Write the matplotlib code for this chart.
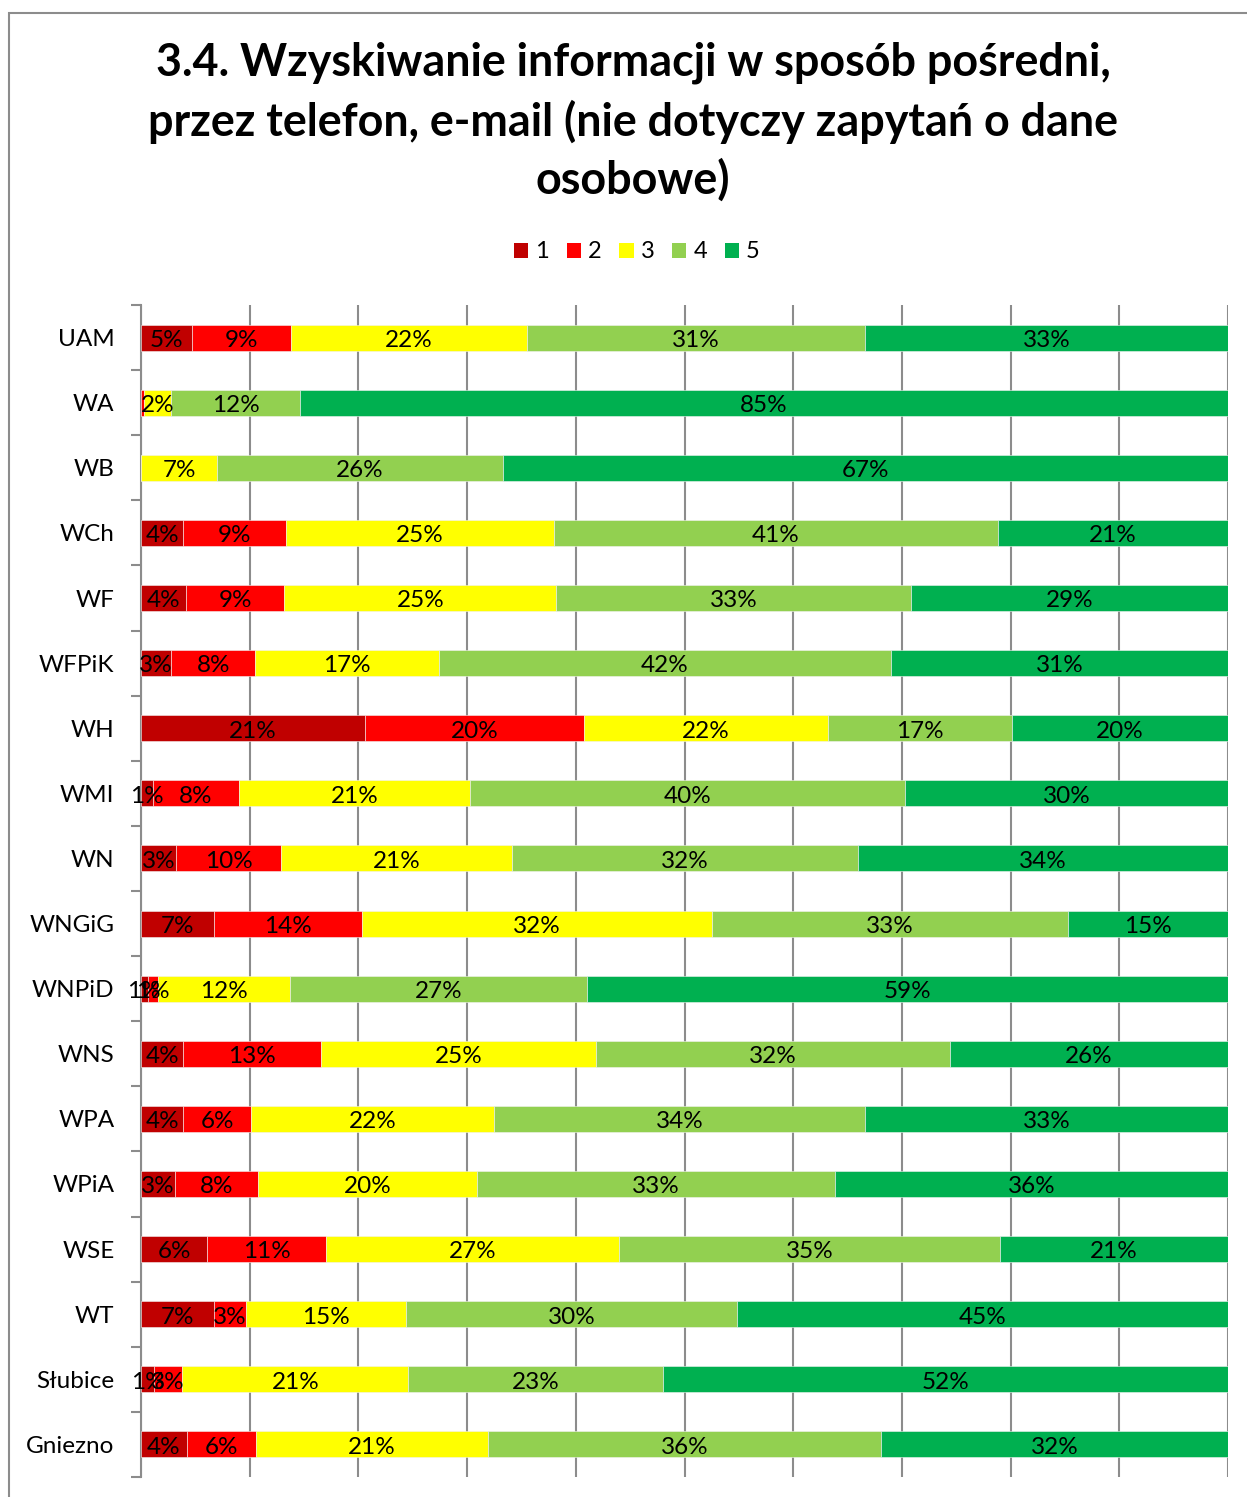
import matplotlib.pyplot as plt
from matplotlib.patches import Rectangle, Patch

plt.rcParams['font.family'] = ['Lato', 'DejaVu Sans']

# data (percent of answers, rows top to bottom)
categories = ['UAM', 'WA', 'WB', 'WCh', 'WF', 'WFPiK', 'WH', 'WMI', 'WN', 'WNGiG',
              'WNPiD', 'WNS', 'WPA', 'WPiA', 'WSE', 'WT', 'Słubice', 'Gniezno']
s1 = [4.7, 0.0, 0.0, 3.9, 4.1, 2.8, 20.6, 1.1, 3.2, 6.7, 0.6, 3.9, 3.9, 3.1, 6.1, 6.7, 1.2, 4.2]
s2 = [9.1, 0.3, 0.0, 9.4, 9.1, 7.7, 20.2, 7.9, 9.7, 13.6, 1.0, 12.7, 6.2, 7.7, 10.9, 3.0, 2.6, 6.4]
s3 = [21.7, 2.5, 7.0, 24.7, 25.0, 16.9, 22.4, 21.3, 21.2, 32.2, 12.1, 25.3, 22.4, 20.1, 27.0, 14.7, 20.8, 21.3]
s4 = [31.1, 11.8, 26.3, 40.8, 32.6, 41.6, 16.9, 40.0, 31.9, 32.8, 27.3, 32.5, 34.1, 32.9, 35.0, 30.4, 23.4, 36.2]
s5 = [33.4, 85.4, 66.7, 21.2, 29.2, 31.0, 19.9, 29.7, 34.0, 14.7, 59.0, 25.6, 33.4, 36.2, 21.0, 45.2, 52.0, 31.9]
series = [s1, s2, s3, s4, s5]
series_names = ['1', '2', '3', '4', '5']
colors = ['#C00000', '#FF0000', '#FFFF00', '#92D050', '#00B050']

fig = plt.figure(figsize=(12.47, 14.97), dpi=100)
ax = fig.add_axes([141 / 1247, 20 / 1497, 1087 / 1247, 1172 / 1497])

n = len(categories)
ypos = list(range(n))
totals = [sum(s[i] for s in series) for i in range(n)]
left = [0.0] * n
for vals, col in zip(series, colors):
    widths = [vals[i] / totals[i] * 100 for i in range(n)]
    ax.barh(ypos, widths, left=left, height=0.4, color=col,
            edgecolor='#F2F2F2', linewidth=0.4, zorder=3)
    for i in range(n):
        if round(widths[i]) >= 1:
            ax.annotate(f'{round(widths[i])}%', (left[i] + widths[i] / 2, ypos[i]),
                        xytext=(0, -2), textcoords='offset points',
                        ha='center', va='center', fontsize=17.5, color='black', zorder=4)
    left = [left[i] + widths[i] for i in range(n)]

ax.set_xlim(0, 100)
ax.set_ylim(n - 0.5, -0.5)
ax.set_xticks(range(0, 101, 10))
ax.tick_params(axis='x', length=0, labelbottom=False)
ax.grid(axis='x', color='#8C8C8C', linewidth=1.5, zorder=0)

ax.set_yticks([i - 0.5 for i in range(n + 1)])
ax.set_yticklabels([])
ax.set_yticks(ypos, minor=True)
ax.set_yticklabels(categories, minor=True, fontsize=17.5)
ax.tick_params(axis='y', which='major', length=7, width=1.5, color='#8C8C8C', direction='out')
ax.tick_params(axis='y', which='minor', length=0, pad=19)

for side in ['top', 'right', 'bottom']:
    ax.spines[side].set_visible(False)
ax.spines['left'].set_color('#8C8C8C')
ax.spines['left'].set_linewidth(1.5)

fig.text(633 / 1247, 1 - 122 / 1497,
         '3.4. Wzyskiwanie informacji w sposób pośredni,\n'
         'przez telefon, e-mail (nie dotyczy zapytań o dane\n'
         'osobowe)',
         ha='center', va='center', fontsize=32.3, fontweight='bold', linespacing=1.42)

handles = [Patch(facecolor=c, edgecolor='none', label=l) for c, l in zip(colors, series_names)]
fig.legend(handles=handles, loc='center', bbox_to_anchor=(637 / 1247, 1 - 252 / 1497),
           ncol=5, frameon=False, fontsize=17, handlelength=0.6, handleheight=0.6,
           handletextpad=0.3, columnspacing=0.75)

fig.patches.append(Rectangle((8.5 / 1247, -0.1), 1.2, 1 - 12.5 / 1497 + 0.1,
                             transform=fig.transFigure, fill=False,
                             edgecolor='#8C8C8C', linewidth=1.5))

fig.savefig('out.png', dpi=100)
